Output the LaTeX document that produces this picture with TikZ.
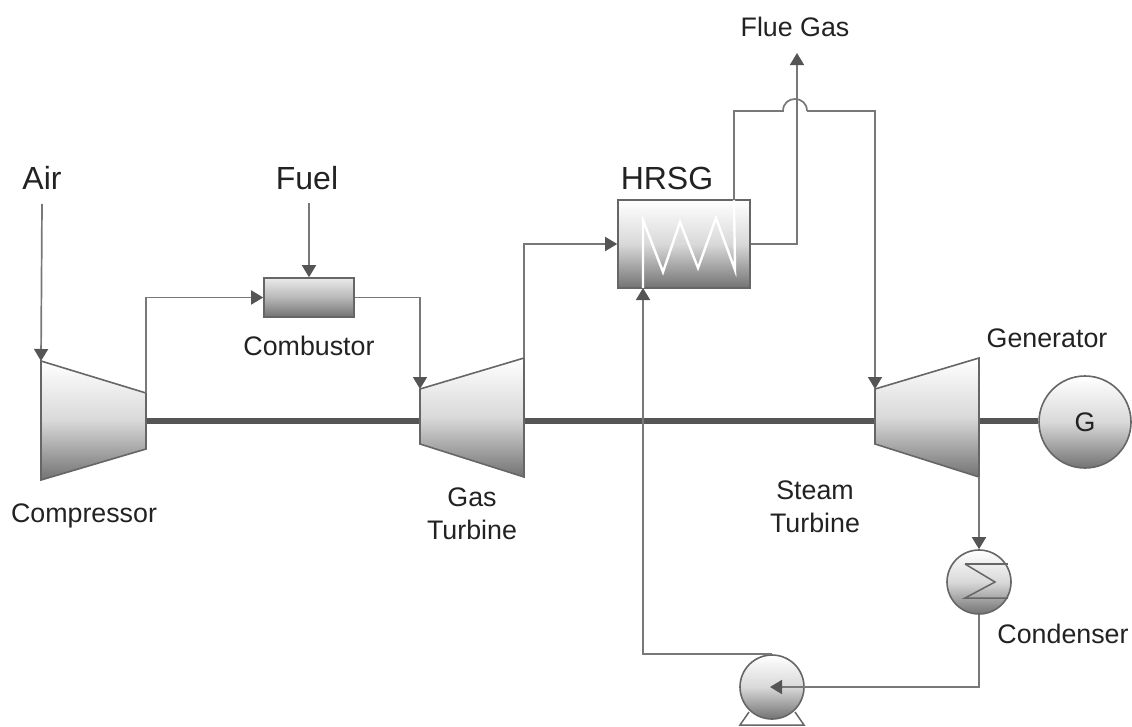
\documentclass[tikz,border=0pt]{standalone}
\usepackage{fontspec}
\setmainfont{Liberation Sans}
\usetikzlibrary{arrows.meta,calc}
\definecolor{linegray}{HTML}{787878}
\definecolor{edgegray}{HTML}{666666}
\definecolor{tipgray}{HTML}{555555}
\definecolor{textgray}{HTML}{222222}
\begin{document}
\begin{tikzpicture}[
    x=1pt, y=-1pt,
    equip/.style={draw=edgegray, line width=1.6pt, top color=white, bottom color=black!55, middle color=black!15},
    vessel/.style={equip, rectangle, minimum width=#1, inner sep=0pt},
    drum/.style={equip, circle, minimum size=64pt, inner sep=0pt},
    pipe/.style={draw=linegray, line width=1.7pt},
    arr/.style={pipe, -{Triangle[length=12pt,width=14pt,color=tipgray]}},
    shaft/.style={draw=tipgray, line width=6pt},
    coil/.style={draw=white, line width=2.4pt},
    lbl/.style={font=\fontsize{26.8}{32}\selectfont, text=textgray, align=center, inner sep=0pt},
    biglbl/.style={font=\fontsize{32}{38}\selectfont, text=textgray, inner sep=0pt}
]
\useasboundingbox (0,0) rectangle (1132,726);

\coordinate (compNW) at (41,361);
\coordinate (compNE) at (146,393);
\coordinate (compSE) at (146,449);
\coordinate (compSW) at (41,480);
\coordinate (compE) at (146,421);
\coordinate (gasNW) at (420,389);
\coordinate (gasNE) at (524,358);
\coordinate (gasSE) at (524,477);
\coordinate (gasSW) at (420,444);
\coordinate (gasW) at (420,421);
\coordinate (gasE) at (524,421);
\coordinate (steamNW) at (875,389);
\coordinate (steamNE) at (979,358);
\coordinate (steamSE) at (979,477);
\coordinate (steamSW) at (875,444);
\coordinate (steamW) at (875,421);
\coordinate (steamE) at (979,421);

\node[vessel=90pt, minimum height=39pt, top color=black!8, bottom color=black!55, middle color=black!28] (comb) at (309,297.5) {};
\node[vessel=132pt, minimum height=88pt] (hrsg) at (684,244) {};
\node[drum, minimum size=92pt] (gen) at (1085,422) {};
\node[drum] (cond) at (979,582) {};
\node[drum] (pump) at (772,687) {};

\node[biglbl] (air) at (42,178) {Air};
\node[biglbl] (fuel) at (307,178) {Fuel};
\node[biglbl] (hrsglbl) at (667,178) {HRSG};
\node[lbl] (flue) at (795,27) {Flue Gas};
\node[lbl] (comblbl) at (309,346) {Combustor};
\node[lbl] (complbl) at (84,516) {Compressor};
\node[lbl] (gaslbl) at (472,514) {Gas\\[1pt]Turbine};
\node[lbl] (steamlbl) at (815,507) {Steam\\[1pt]Turbine};
\node[lbl] (genlbl) at (1047,338) {Generator};
\node[lbl] (condlbl) at (1063,634) {Condenser};
\node[lbl] (glbl) at (1085,422) {G};

\draw[shaft] (compE) -- (gasW);
\draw[shaft] (gasE) -- (steamW);
\draw[shaft] (steamE) -- (steamE -| gen.west);

\path[equip] (compNW) -- (compNE) -- (compSE) -- (compSW) -- cycle;
\path[equip] (gasNW) -- (gasNE) -- (gasSE) -- (gasSW) -- cycle;
\path[equip] (steamNW) -- (steamNE) -- (steamSE) -- (steamSW) -- cycle;

\coordinate (coilin) at (643,288);
\coordinate (coilout) at (734,200);
\draw[coil] (coilin) -- (643,220) -- (663,272) -- (680,222) -- (698,268) -- (716,218) -- (735,270) -- (coilout);

\draw[edgegray, line width=1.5pt] (965,564) -- (1008,564);
\draw[edgegray, line width=1.5pt] (1008,598) -- (965,598) -- (995,582) -- (965,564);
\draw[edgegray, line width=1.5pt] (749,712) -- (740,725) -- (804,725) -- (795,712);

\coordinate (jumpl) at (783,111);
\coordinate (jumpr) at (807,111);
\coordinate (flueend) at (797,53);
\coordinate (pumpin) at (770,687);

\draw[arr] ($(air.south)+(0,14)$) -- (compNW);
\draw[arr] (fuel.south -| comb.north) ++(0,13) -- (comb.north);
\draw[arr] (compNE) |- (comb.west);
\draw[arr] (comb.east) -| (gasNW);
\draw[arr] (gasNE) |- (hrsg.west);
\draw[arr] (hrsg.east) -| (flueend);
\draw[pipe] (coilout) |- (jumpl) .. controls +(0,-16) and +(0,-16) .. (jumpr);
\draw[arr] (jumpr) -| (steamNW);
\draw[arr] (steamSE) -- (cond.north);
\draw[arr] (cond.south) |- (pumpin);
\draw[arr] (pump.north) -| (coilin);
\end{tikzpicture}
\end{document}
